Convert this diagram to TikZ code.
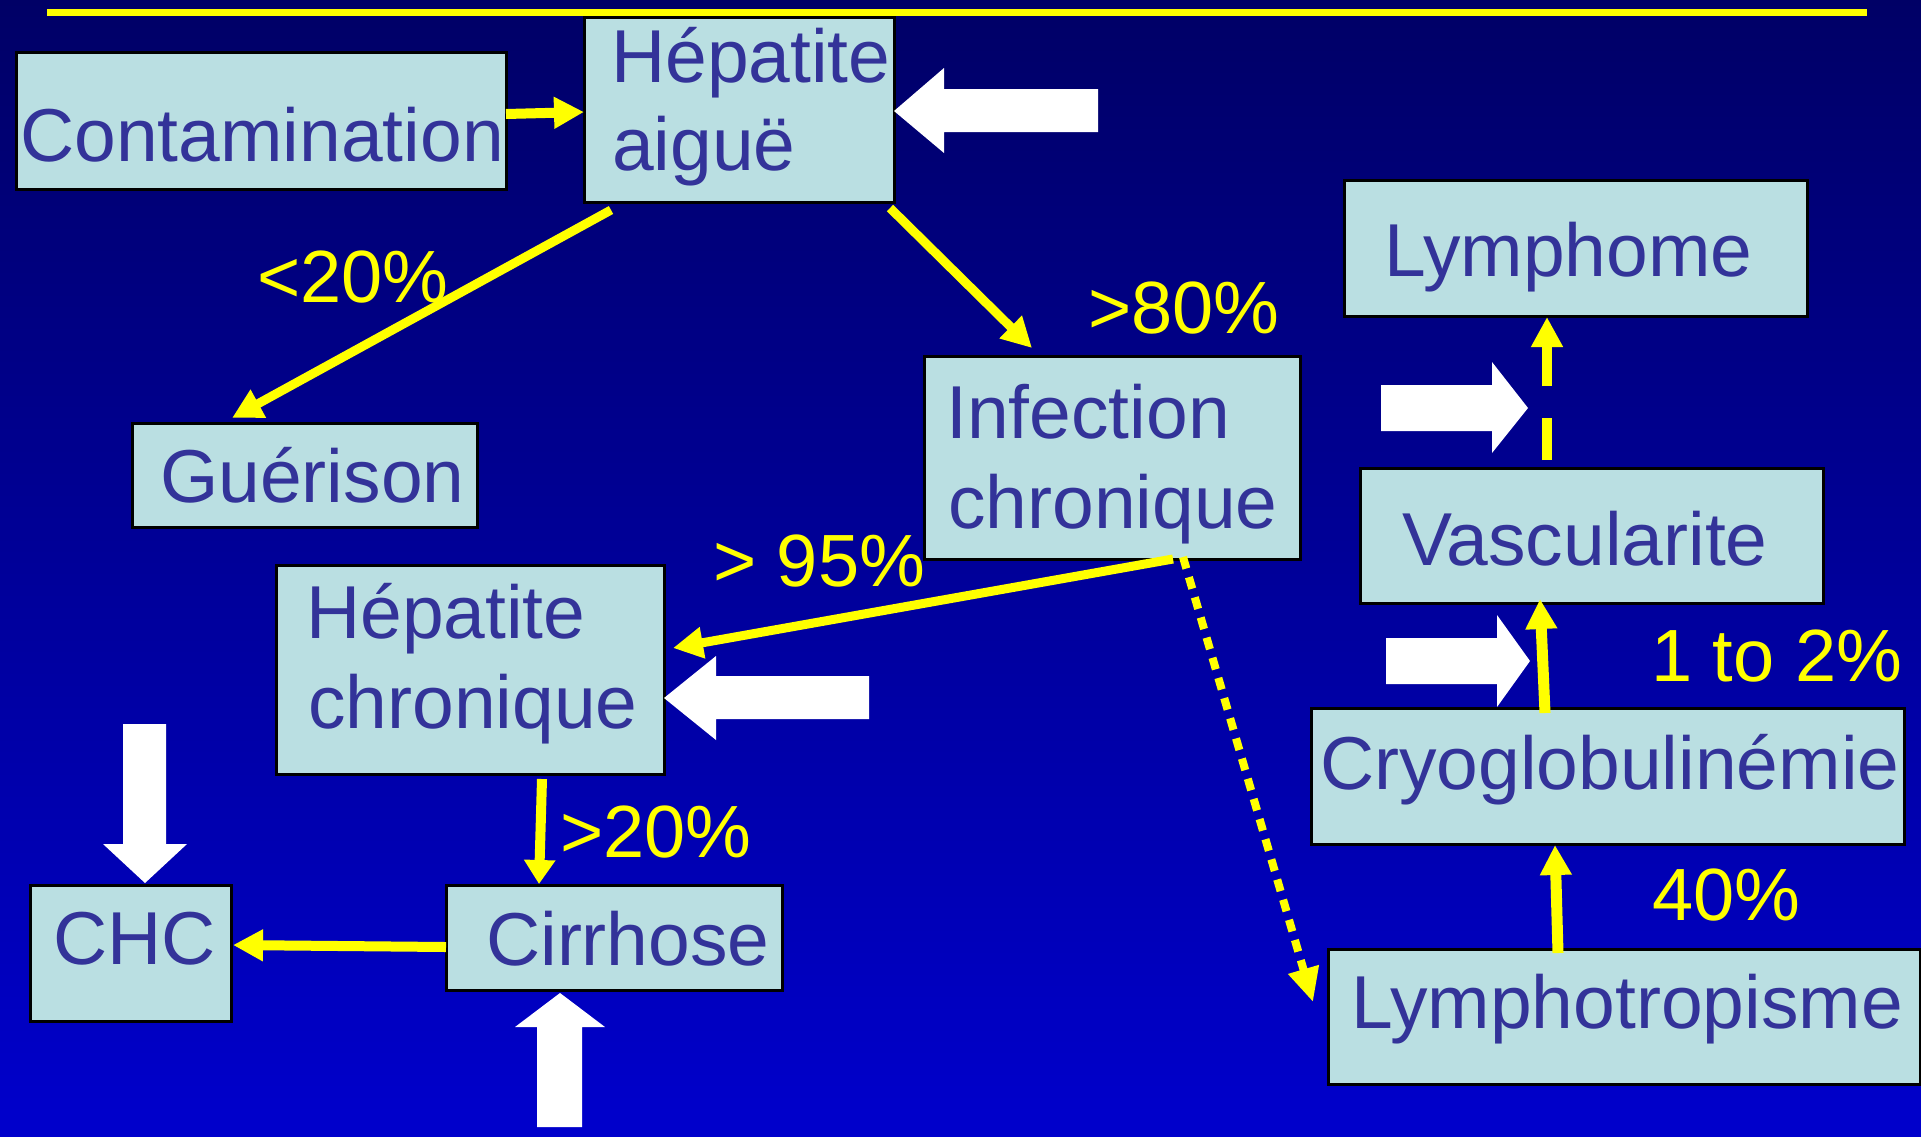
\documentclass[tikz,border=0pt]{standalone}
\usepackage{fontspec}
\setmainfont{Liberation Sans}
\usetikzlibrary{arrows.meta,calc}
\definecolor{boxfill}{HTML}{BADFE2}
\definecolor{txtblue}{HTML}{333399}
\definecolor{bgtop}{HTML}{000066}
\definecolor{bgbot}{HTML}{0000CC}
\definecolor{ylw}{HTML}{FFFF00}
\begin{document}
\begin{tikzpicture}[x=1pt,y=-1pt,
  box/.style={draw=black,line width=3pt,fill=boxfill,rectangle,inner sep=0pt,outer sep=0pt,anchor=north west},
  txt/.style={text=txtblue,font=\fontsize{75}{86}\selectfont,inner sep=0pt,anchor=base west},
  lbl/.style={text=ylw,font=\fontsize{74}{86}\selectfont,inner sep=0pt,anchor=base west},
  conn/.style={draw=ylw,line width=9pt,-{Triangle[length=30pt,width=30pt]}},
  blk/.style={fill=white}]
% background
\useasboundingbox (0,0) rectangle (1921,1136);
\shade[top color=bgtop,bottom color=bgbot] (0,0) rectangle (1921,1136);
\draw[ylw,line width=7pt] (47,12.5) -- (1867,12.5);
% boxes
\node[box,minimum width=490pt,minimum height=137pt] (cont) at (16,52) {};
\node[box,minimum width=310pt,minimum height=185pt] (hepA) at (584,17) {};
\node[box,minimum width=345pt,minimum height=104pt] (guer) at (132,423) {};
\node[box,minimum width=376pt,minimum height=203pt] (infc) at (924,356) {};
\node[box,minimum width=463pt,minimum height=136pt] (lymphome) at (1344,180) {};
\node[box,minimum width=463pt,minimum height=135pt] (vasc) at (1360,468) {};
\node[box,minimum width=388pt,minimum height=209pt] (hepC) at (276,565) {};
\node[box,minimum width=201pt,minimum height=136pt] (chc) at (30,885) {};
\node[box,minimum width=336pt,minimum height=105pt] (cirr) at (446,885) {};
\node[box,minimum width=593pt,minimum height=136pt] (cryo) at (1311,708) {};
\node[box,minimum width=592pt,minimum height=135pt] (lympho) at (1328,949) {};
% texts
\node[txt] (contT) at (20,161) {Contamination};
\node[txt] (hepA1) at (611,82) {Hépatite};
\node[txt] (hepA2) at (612,170) {aiguë};
\node[txt] (guerT) at (160,502) {Guérison};
\node[txt] (infc1) at (946,438) {Infection};
\node[txt] (infc2) at (948,528) {chronique};
\node[txt] (lymphomeT) at (1384,276) {Lymphome};
\node[txt] (vascT) at (1402,565) {Vascularite};
\node[txt] (hepC1) at (306,638) {Hépatite};
\node[txt] (hepC2) at (308,728) {chronique};
\node[txt] (chcT) at (53,964) {CHC};
\node[txt] (cirrT) at (486,965) {Cirrhose};
\node[txt] (cryoT) at (1320,789) {Cryoglobulinémie};
\node[txt] (lymphoT) at (1351,1028) {Lymphotropisme};
% labels
\node[lbl] (l20a) at (257,302) {<20\%};
\node[lbl] (l80) at (1088,333) {>80\%};
\node[lbl] (l95) at (713,586) {> 95\%};
\node[lbl] (l20b) at (560,857) {>20\%};
\node[lbl] (l12) at (1651,681) {1 to 2\%};
\node[lbl] (l40) at (1652,920) {40\%};
% connectors
\draw[conn,line width=10pt] ($(cont.north east)+(0,62)$) -- ($(hepA.north west)+(0,95)$);
\draw[conn] ($(hepA.south west)+(27,8)$) -- ($(guer.north west)+(100,-5)$);
\draw[conn] ($(hepA.south east)+(-4,6)$) -- ($(infc.north west)+(108,-8)$);
\draw[conn] ($(infc.south west)+(249,0)$) -- ($(hepC.north east)+(9,83)$);
\draw[conn,line width=8pt,dash pattern=on 12pt off 9pt,-{Triangle[length=34pt,width=30pt]}] ($(infc.south west)+(259,-2)$) -- ($(lympho.north west)+(-15,53)$);
\draw[conn,line width=10pt,-{Triangle[length=24pt,width=30pt]}] ($(hepC.south west)+(266,5)$) -- ($(cirr.north west)+(93,-1)$);
\draw[conn,line width=10pt] ($(cirr.north west)+(0,62)$) -- ($(chc.north east)+(2,60)$);
\draw[conn,line width=11pt] ($(lympho.north west)+(230,4)$) -- ($(cryo.south west)+(244,1)$);
\draw[conn,line width=11pt] ($(cryo.north west)+(234,5)$) -- ($(vasc.south west)+(180,-4)$);
\draw[conn,line width=10pt,dash pattern=on 42pt off 32pt] ($(vasc.north west)+(187,-8)$) -- ($(lymphome.south west)+(203,1)$);
% white block arrows
\fill[blk] (894,111) -- (944,68) -- (944,89) -- (1098,89) -- (1098,132) -- (944,132) -- (944,153) -- cycle;
\fill[blk] (1528,408) -- (1492,362) -- (1492,385) -- (1381,385) -- (1381,431) -- (1492,431) -- (1492,453) -- cycle;
\fill[blk] (1530,661) -- (1497,615) -- (1497,638) -- (1386,638) -- (1386,684) -- (1497,684) -- (1497,707) -- cycle;
\fill[blk] (664,698) -- (716,656) -- (716,676) -- (869,676) -- (869,719) -- (716,719) -- (716,740) -- cycle;
\fill[blk] (145,883) -- (103,844) -- (123,844) -- (123,724) -- (166,724) -- (166,844) -- (187,844) -- cycle;
\fill[blk] (560,993) -- (515,1027) -- (537,1027) -- (537,1127) -- (582,1127) -- (582,1027) -- (605,1027) -- cycle;
\end{tikzpicture}
\end{document}
